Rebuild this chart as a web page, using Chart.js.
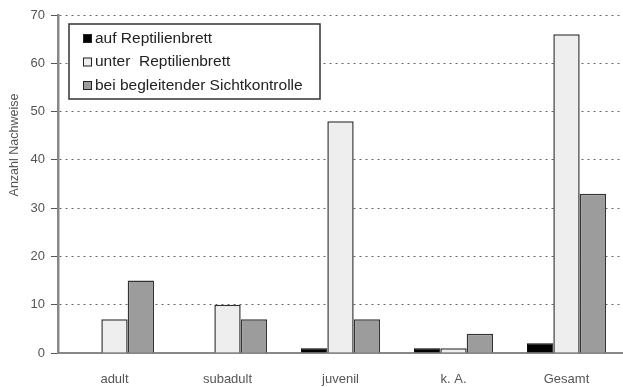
<!DOCTYPE html>
<html>
<head>
<meta charset="utf-8">
<script src="https://cdn.jsdelivr.net/npm/chart.js@4"></script>
<style>
  html, body { margin: 0; padding: 0; background: #fff; }
  #wrap { width: 623px; height: 387px; }
</style>
</head>
<body>
<div id="wrap"><canvas id="myChart" width="623" height="387"></canvas></div>
<script>
const categories = ['adult', 'subadult', 'juvenil', 'k. A.', 'Gesamt'];
const seriesNames = ['auf Reptilienbrett', 'unter  Reptilienbrett', 'bei begleitender Sichtkontrolle'];
const aufBrett = [0, 0, 1, 1, 2];
const unterBrett = [7, 10, 48, 1, 66];
const sichtkontrolle = [15, 7, 7, 4, 33];
const yTicks = [0, 10, 20, 30, 40, 50, 60, 70];
const yTitle = 'Anzahl Nachweise';

const fontFamily = 'Arial, "Liberation Sans", sans-serif';

// draws the boxed legend inside the plot and the y axis title
const boxLegend = {
    id: 'boxLegend',
    afterDraw(chart) {
        const ctx = chart.ctx;
        ctx.save();
        const x = 69, y = 24, w = 251, h = 75;
        ctx.fillStyle = '#fff';
        ctx.fillRect(x, y, w, h);
        ctx.strokeStyle = '#333';
        ctx.lineWidth = 1.5;
        ctx.strokeRect(x, y, w, h);
        ctx.font = '15.5px ' + fontFamily;
        ctx.textBaseline = 'middle';
        chart.data.datasets.forEach((ds, i) => {
            const cy = 38.5 + i * 23.5;
            ctx.fillStyle = ds.backgroundColor;
            ctx.fillRect(83, cy - 4.5, 9, 9);
            ctx.strokeStyle = '#222';
            ctx.lineWidth = 1;
            ctx.strokeRect(83.5, cy - 4, 8, 8);
            ctx.fillStyle = '#222';
            ctx.fillText(ds.label, 95, cy);
        });
        // y axis title
        ctx.translate(15, 145);
        ctx.rotate(-Math.PI / 2);
        ctx.textAlign = 'center';
        ctx.font = '12.5px ' + fontFamily;
        ctx.fillStyle = '#555';
        ctx.fillText(yTitle, 0, 0);
        ctx.restore();
    }
};

const ctx = document.getElementById('myChart').getContext('2d');
new Chart(ctx, {
    type: 'bar',
    data: {
        labels: categories,
        datasets: [{
            label: seriesNames[0],
            data: aufBrett,
            backgroundColor: '#000000',
            borderColor: '#000000',
            borderWidth: 1
        }, {
            label: seriesNames[1],
            data: unterBrett,
            backgroundColor: '#eeeeee',
            borderColor: '#333333',
            borderWidth: 1.5
        }, {
            label: seriesNames[2],
            data: sichtkontrolle,
            backgroundColor: '#9c9c9c',
            borderColor: '#333333',
            borderWidth: 1.5
        }]
    },
    options: {
        responsive: false,
        animation: false,
        layout: { padding: { top: 15, right: 0, left: 0, bottom: 0 } },
        datasets: {
            bar: { categoryPercentage: 0.7, barPercentage: 1 }
        },
        plugins: {
            legend: { display: false },
            tooltip: { enabled: false }
        },
        scales: {
            x: {
                afterFit(scale) { scale.height = 34; },
                grid: { display: false },
                border: { display: true, color: '#888', width: 2 },
                ticks: {
                    padding: 11,
                    color: '#555',
                    font: { size: 13, family: fontFamily }
                }
            },
            y: {
                min: 0,
                max: 70,
                afterFit(scale) { scale.width = 58; },
                afterBuildTicks(scale) { scale.ticks = yTicks.map(v => ({ value: v })); },
                border: { display: true, color: '#888', width: 2.5, dash: [2, 4] },
                grid: {
                    color: '#666',
                    lineWidth: 1,
                    tickLength: 7,
                    tickColor: '#555',
                    tickBorderDash: []
                },
                ticks: {
                    padding: 6,
                    color: '#555',
                    font: { size: 13, family: fontFamily }
                }
            }
        }
    },
    plugins: [boxLegend]
});
</script>
</body>
</html>
